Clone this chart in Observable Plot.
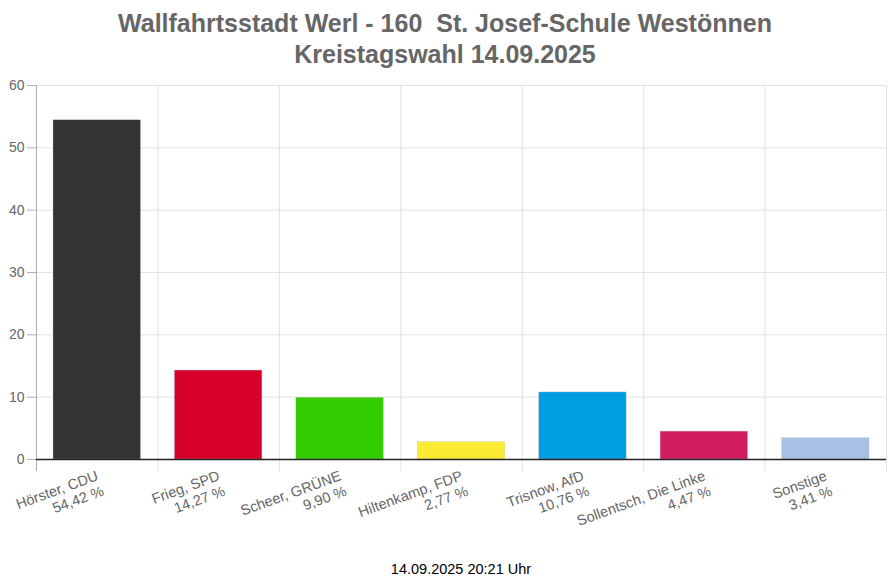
<!DOCTYPE html>
<html><head><meta charset="utf-8">
<script src="https://cdn.jsdelivr.net/npm/d3@7"></script>
<script src="https://cdn.jsdelivr.net/npm/@observablehq/plot@0.6"></script>
<style>
body{margin:0;background:#fff;font-family:"Liberation Sans",Arial,sans-serif;}
#title{width:890px;text-align:center;color:#666;font-weight:bold;font-size:25px;line-height:31px;padding-top:8px;height:64px;box-sizing:content-box;}
#foot{width:850px;padding-left:36px;text-align:center;font-size:14.5px;color:#000;margin-top:9px;}
</style></head><body>
<div id="title">Wallfahrtsstadt Werl - 160&nbsp; St. Josef-Schule Westönnen<br>Kreistagswahl 14.09.2025</div>
<div id="chart"></div>
<div id="foot">14.09.2025 20:21 Uhr</div>
<script>
const candidates = ["Hörster, CDU","Frieg, SPD","Scheer, GRÜNE","Hiltenkamp, FDP","Trisnow, AfD","Sollentsch, Die Linke","Sonstige"];
const shares = [54.42,14.27,9.90,2.77,10.76,4.47,3.41];
const colors = ["#333333","#d7002a","#33cc00","#fceb33","#009ee0","#d01e5e","#aabfe6"];
const yTicks = [0,10,20,30,40,50,60];

const data = candidates.map((c,i)=>({c, v: shares[i], col: colors[i]}));
const fmt = v => v.toFixed(2).replace(".", ",") + " %";
const labelOf = new Map(data.map(d=>[d.c, d.c + "\n" + fmt(d.v)]));

const W = 890, mL = 36, mR = 4;
const bw = (W - mL - mR) / candidates.length;

const chart = Plot.plot({
  width: W, height: 480,
  marginLeft: mL, marginRight: mR, marginTop: 13, marginBottom: 93,
  style: {fontFamily: "'Liberation Sans', Arial, sans-serif", fontSize: "14px", color: "#666", background: "#fff"},
  x: {domain: candidates, padding: 0, round: false, label: null},
  y: {domain: [0,60], label: null},
  marks: [
    Plot.ruleY(yTicks, {y: d=>d, stroke: "#e2e2e2", strokeWidth: 1}),
    Plot.ruleX(candidates, {x: d=>d, dx: -bw/2, y1: 60, y2: 0, insetBottom: -12, stroke: d => d === candidates[0] ? "#b0b0b0" : "#e2e2e2"}),
    Plot.ruleX([candidates[candidates.length-1]], {x: d=>d, dx: bw/2, y1: 60, y2: 0, insetBottom: -12, stroke: "#e2e2e2"}),
    Plot.barY(data, {x: "c", y: "v", fill: "col", insetLeft: 17, insetRight: 17, stroke: "#bbb", strokeWidth: 0.5, strokeOpacity: 0.6}),
    Plot.ruleY([0], {stroke: "#222", strokeWidth: 1.5}),
    Plot.axisY({ticks: yTicks, tickSize: 9, tickPadding: 3, stroke: "#b0b0b0", fill: "#666", fontSize: 14, label: null}),
    Plot.axisX({tickSize: 0, tickPadding: 19, dx: 3, dy: 4, tickRotate: -20, tickFormat: d => labelOf.get(d), fill: "#666", fontSize: 14.5, lineHeight: 1.12, label: null})
  ]
});
document.getElementById("chart").appendChild(chart);
</script>
</body></html>
